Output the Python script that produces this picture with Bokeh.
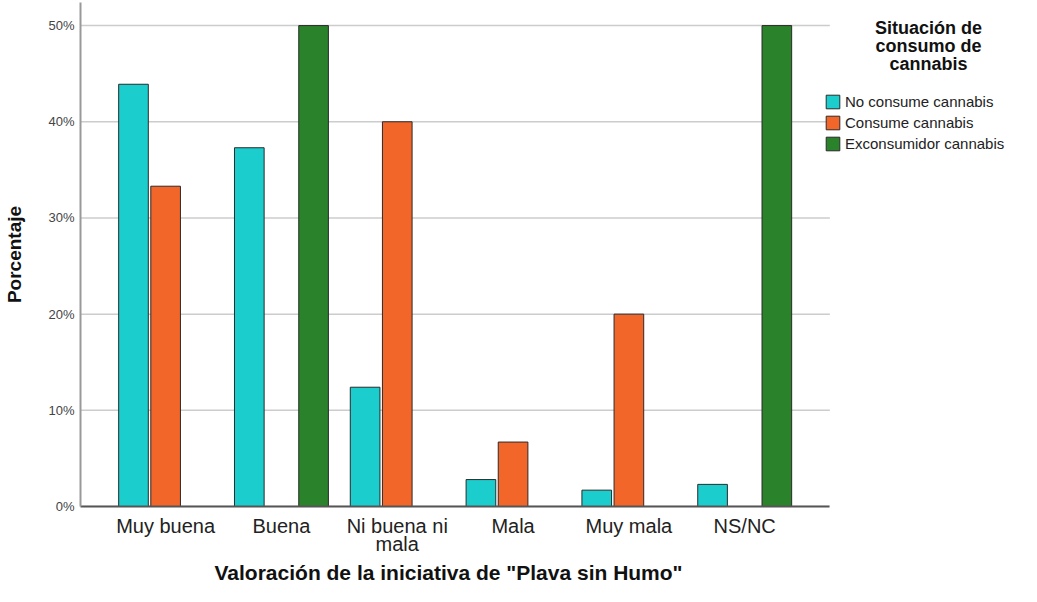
from bokeh.plotting import figure
from bokeh.models import (ColumnDataSource, FixedTicker, PrintfTickFormatter, Range1d,
                          Legend, Label, Title)
from bokeh.transform import dodge
from bokeh.embed import file_html
from bokeh.resources import INLINE

categories = ["Muy buena", "Buena", "Ni buena ni\nmala", "Mala", "Muy mala", "NS/NC"]
no_consume = [43.9, 37.3, 12.4, 2.8, 1.7, 2.3]
consume = [33.3, 0.0, 40.0, 6.7, 20.0, 0.0]
exconsumidor = [0.0, 50.0, 0.0, 0.0, 0.0, 50.0]
series_names = ["No consume cannabis", "Consume cannabis", "Exconsumidor cannabis"]
colors = ["#1CCDCD", "#F2662A", "#2A822A"]
y_ticks = [0, 10, 20, 30, 40, 50]
legend_title = ["Situación de", "consumo de", "cannabis"]
x_title = 'Valoración de la iniciativa de "Plava sin Humo"'

FONT = "Liberation Sans"

X_START, X_END_DATA, X_END = -0.735, 5.735, 7.39
FRAME_BOTTOM = 498  # canvas px where the x axis ends up

idx = list(range(len(categories)))
source = ColumnDataSource(dict(x=idx, s0=no_consume, s1=consume, s2=exconsumidor))

p = figure(width=1021, height=586, output_backend="svg", toolbar_location=None,
           x_range=Range1d(X_START, X_END), y_range=Range1d(0, 52.4),
           min_border_left=80, min_border_right=0, min_border_top=2,
           min_border_bottom=80)
p.outline_line_color = None
p.background_fill_color = "white"
p.border_fill_color = "white"

# horizontal grid lines, limited to the plotting area left of the legend
p.segment(x0=[X_START] * len(y_ticks), x1=[X_END_DATA] * len(y_ticks), y0=y_ticks, y1=y_ticks,
          line_color="#cccccc", line_width=1.5, level="underlay")

offsets = [-0.2775, 0.0, 0.2775]
renderers = []
for k, (col, off) in enumerate(zip(colors, offsets)):
    r = p.vbar(x=dodge("x", off, range=p.x_range), top="s%d" % k, width=0.256, bottom=0,
               source=source, fill_color=col, line_color="#2a2a2a", line_width=1)
    renderers.append(r)

# x axis
p.xaxis.bounds = (X_START, X_END_DATA)
p.xaxis.ticker = FixedTicker(ticks=idx)
p.xaxis.major_label_overrides = {i: c for i, c in enumerate(categories)}
p.xaxis.major_tick_line_color = None
p.xaxis.minor_tick_line_color = None
p.xaxis.major_tick_out = 0
p.xaxis.major_tick_in = 0
p.xaxis.axis_line_color = "#555555"
p.xaxis.axis_line_width = 2
p.xaxis.major_label_text_font = FONT
p.xaxis.major_label_text_font_size = "20px"
p.xaxis.major_label_text_line_height = 0.85
p.xaxis.major_label_text_color = "#222222"
p.xaxis.major_label_standoff = 8

p.add_layout(Title(text=x_title, align="left", offset=134, standoff=0,
                   text_font=FONT, text_font_style="bold", text_font_size="21px",
                   text_line_height=1.0, text_color="#111111"), "below")

# y axis
p.yaxis.ticker = FixedTicker(ticks=y_ticks)
p.yaxis.formatter = PrintfTickFormatter(format="%d%%")
p.yaxis.major_tick_line_color = None
p.yaxis.minor_tick_line_color = None
p.yaxis.major_tick_out = 0
p.yaxis.major_tick_in = 0
p.yaxis.axis_line_color = "#999999"
p.yaxis.axis_line_width = 2
p.yaxis.major_label_text_font = FONT
p.yaxis.major_label_text_font_size = "13px"
p.yaxis.major_label_text_color = "#444444"
p.yaxis.major_label_standoff = 6
p.yaxis.axis_label = "Porcentaje"
p.yaxis.axis_label_text_font = FONT
p.yaxis.axis_label_text_font_style = "bold"
p.yaxis.axis_label_text_font_size = "19px"
p.yaxis.axis_label_text_color = "#111111"
p.yaxis.axis_label_standoff = 20

p.xgrid.grid_line_color = None
p.ygrid.grid_line_color = None

legend = Legend(items=[(n, [r]) for n, r in zip(series_names, renderers)],
                location=(744, FRAME_BOTTOM - 144), margin=0, padding=0, spacing=4,
                glyph_width=17, glyph_height=17, label_height=17,
                label_standoff=4, label_text_font=FONT, label_text_font_size="15px",
                label_text_color="#222222", border_line_color=None,
                background_fill_alpha=0)
p.add_layout(legend)

for i, t in enumerate(legend_title):
    p.add_layout(Label(x=848, y=FRAME_BOTTOM - 19 - 18 * i, x_units="screen", y_units="screen",
                       text=t, text_align="center", text_baseline="middle", text_font=FONT,
                       text_font_style="bold", text_font_size="18px", text_color="#111111"))

open("out.html", "w").write(file_html(p, INLINE))
